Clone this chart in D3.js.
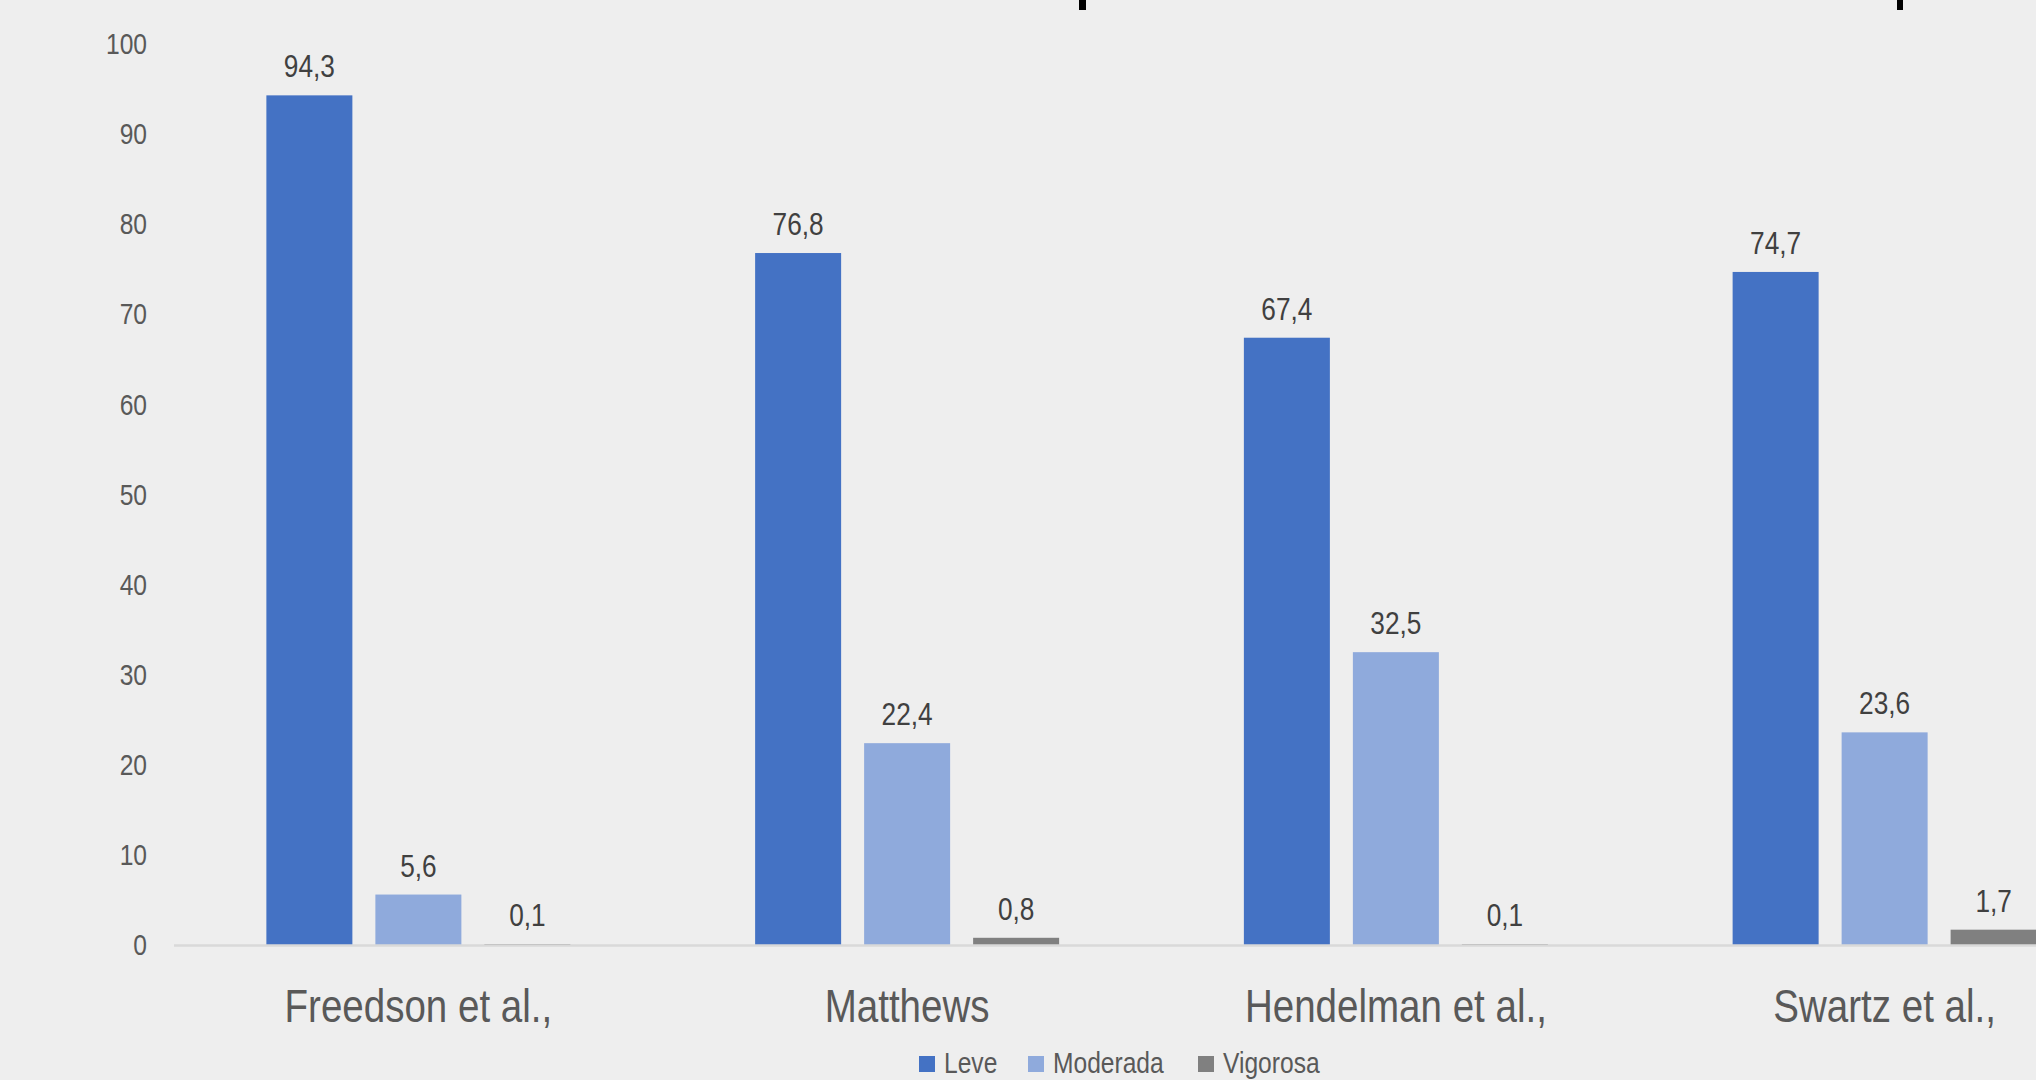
<!DOCTYPE html>
<html>
<head>
<meta charset="utf-8">
<script src="https://cdn.jsdelivr.net/npm/d3@7"></script>
<style>
	html, body { margin: 0; padding: 0; background: #eeeeee; overflow: hidden; }
	svg { display: block; font-family: "Liberation Sans", Arial, sans-serif; }
</style>
</head>
<body>
<svg id="chart" width="2036" height="1080"></svg>
<script>
"use strict";

// chart data
var categories = ["Freedson et al.,", "Matthews", "Hendelman et al.,", "Swartz et al.,"];
var seriesNames = ["Leve", "Moderada", "Vigorosa"];
var leve = [94.3, 76.8, 67.4, 74.7];
var moderada = [5.6, 22.4, 32.5, 23.6];
var vigorosa = [0.1, 0.8, 0.1, 1.7];
var yTicks = [0, 10, 20, 30, 40, 50, 60, 70, 80, 90, 100];
var colors = ["#4472c4", "#8faadc", "#808080"];

var seriesValues = [leve, moderada, vigorosa];

var width = 2036, height = 1080;
var narrow = 0.82; // no narrow font installed, squeeze the text instead
var svg = d3.select("#chart");

// squeeze a text node horizontally round its anchor point
function condense(sel) {
	sel.each(function() {
		var t = d3.select(this);
		var tx = +t.attr("x") || 0;
		t.attr("transform", function() {
			var prev = t.attr("transform") || "";
			return prev + " translate(" + tx + ",0) scale(" + narrow + ",1) translate(" + (-tx) + ",0)";
		});
	});
}

// plot area (right side runs past the edge like in the source crop)
var x0 = 174, x1 = 2129;
var yBottom = 945, yTop = 44;

var x = d3.scaleBand()
	.domain(categories)
	.range([x0, x1])
	.paddingInner(0.378)
	.paddingOuter(0.189);

var xs = d3.scaleBand()
	.domain(seriesNames)
	.range([0, x.bandwidth()])
	.paddingInner(0.211)
	.paddingOuter(0);

var y = d3.scaleLinear()
	.domain([0, 100])
	.range([yBottom, yTop]);

// y axis labels, no line
var yAxis = svg.append("g")
	.attr("transform", "translate(147,0)")
	.call(d3.axisLeft(y).tickValues(yTicks).tickSize(0).tickPadding(0));
yAxis.select(".domain").remove();
yAxis.selectAll("text")
	.attr("fill", "#595959")
	.style("font-size", "30px")
	.attr("font-family", null)
	.call(condense);

// bars
var groups = svg.selectAll("g.group")
	.data(categories)
	.enter().append("g")
	.attr("class", "group")
	.attr("transform", function(d) { return "translate(" + x(d) + ",0)"; });

groups.each(function(cat, ci) {
	var g = d3.select(this);
	var rows = seriesNames.map(function(s, si) {
		return {name: s, value: seriesValues[si][ci], color: colors[si]};
	});

	g.selectAll("rect")
		.data(rows)
		.enter().append("rect")
		.attr("x", function(d) { return xs(d.name); })
		.attr("width", xs.bandwidth())
		.attr("y", function(d) { return y(d.value); })
		.attr("height", function(d) { return y(0) - y(d.value); })
		.attr("fill", function(d) { return d.color; });

	g.selectAll("text")
		.data(rows)
		.enter().append("text")
		.attr("x", function(d) { return xs(d.name) + xs.bandwidth() / 2; })
		.attr("y", function(d) { return y(d.value) - 18; })
		.attr("text-anchor", "middle")
		.attr("fill", "#404040")
		.style("font-size", "32px")
		.text(function(d) { return String(d.value).replace(".", ","); })
		.call(condense);
});

// baseline, drawn over the bar feet
svg.append("line")
	.attr("x1", x0).attr("x2", width)
	.attr("y1", y(0) + 0.5).attr("y2", y(0) + 0.5)
	.attr("stroke", "#d9d9d9")
	.attr("stroke-width", 2.5);

// category labels
var xAxis = svg.append("g")
	.attr("transform", "translate(0," + yBottom + ")")
	.call(d3.axisBottom(x).tickSize(0).tickPadding(0));
xAxis.select(".domain").remove();
xAxis.selectAll("text")
	.attr("y", 77)
	.attr("dy", null)
	.attr("fill", "#595959")
	.attr("font-family", null)
	.style("font-size", "47px")
	.call(condense);

// legend
var legendPos = [919, 1028, 1198];
var legend = svg.append("g").attr("class", "legend");
seriesNames.forEach(function(name, i) {
	legend.append("rect")
		.attr("x", legendPos[i]).attr("y", 1056)
		.attr("width", 16).attr("height", 16)
		.attr("fill", colors[i]);
	legend.append("text")
		.attr("x", legendPos[i] + 25).attr("y", 1073)
		.attr("fill", "#595959")
		.style("font-size", "30px")
		.text(name)
		.call(condense);
});

// remnants of the cropped title at the top edge
svg.append("rect").attr("x", 1079).attr("y", 0).attr("width", 7).attr("height", 10).attr("fill", "#000");
svg.append("rect").attr("x", 1897).attr("y", 0).attr("width", 6).attr("height", 10).attr("fill", "#000");
</script>
</body>
</html>
